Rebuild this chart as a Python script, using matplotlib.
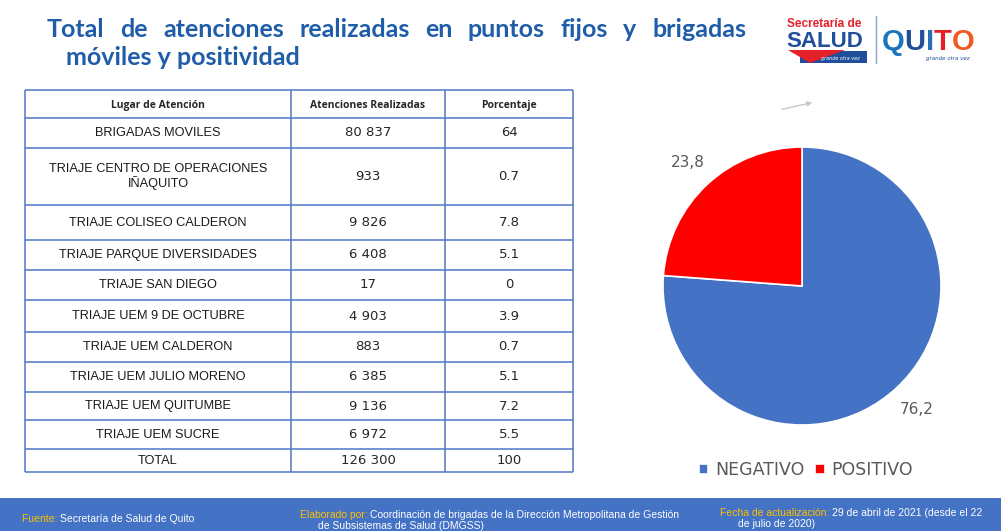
import numpy as np
import matplotlib.pyplot as plt
from matplotlib.patches import Rectangle, Polygon

# datos de la tabla
columnas = ["Lugar de Atención", "Atenciones Realizadas", "Porcentaje"]
lugares = ["BRIGADAS MOVILES", "TRIAJE CENTRO DE OPERACIONES\nIÑAQUITO",
           "TRIAJE COLISEO CALDERON", "TRIAJE PARQUE DIVERSIDADES",
           "TRIAJE SAN DIEGO", "TRIAJE UEM 9 DE OCTUBRE", "TRIAJE UEM CALDERON",
           "TRIAJE UEM JULIO MORENO", "TRIAJE UEM QUITUMBE", "TRIAJE UEM SUCRE"]
atenciones = [80837, 933, 9826, 6408, 17, 4903, 883, 6385, 9136, 6972]
porcentaje = ["64", "0.7", "7.8", "5.1", "0", "3.9", "0.7", "5.1", "7.2", "5.5"]

# datos del pastel
resultado = ["NEGATIVO", "POSITIVO"]
positividad = [76.2, 23.8]
colores = ["#4472C4", "#FF0000"]

W, H = 1001, 531
AZUL_T = "#1F5DA8"
GRIS = "#595959"

fig = plt.figure(figsize=(W / 100, H / 100), dpi=100)
bg = fig.add_axes([0, 0, 1, 1])
bg.set_xlim(0, W)
bg.set_ylim(H, 0)
bg.axis("off")
rend = fig.canvas.get_renderer()


def seq_text(parts, x, y, **kw):
    # pone trozos de texto uno tras otro (colores distintos)
    for s, c in parts:
        t = bg.text(x, y, s, color=c, ha="left", va="baseline", **kw)
        x += t.get_window_extent(rend).width
    return x


def justify(words, x0, x1, y, **kw):
    texts = [bg.text(0, y, w, ha="left", va="baseline", **kw) for w in words]
    widths = [t.get_window_extent(rend).width for t in texts]
    gap = (x1 - x0 - sum(widths)) / (len(words) - 1)
    x = x0
    for t, w in zip(texts, widths):
        t.set_x(x)
        x += w + gap


# titulo
tkw = dict(fontsize=18, fontweight="bold", color=AZUL_T, family=["Lato", "DejaVu Sans"])
justify("Total de atenciones realizadas en puntos fijos y brigadas".split(), 47, 746, 37, **tkw)
bg.text(66, 65, "móviles y positividad", ha="left", va="baseline", **tkw)

# logo (aproximado)
bg.text(787, 27, "Secretaría de", color="#E4202A", fontsize=8.5, fontweight="bold",
        family="Liberation Sans", va="baseline")
bg.text(786, 47, "SALUD", color="#1F4E9B", fontsize=16, fontweight="bold",
        family="Liberation Sans", va="baseline")
bg.add_patch(Rectangle((800, 51), 67, 12, color="#1F4E9B", lw=0))
bg.add_patch(Polygon([(788, 50), (845, 50), (810, 63)], color="#E4202A", lw=0))
bg.text(840, 60, "grande otra vez", color="white", fontsize=3.5, style="italic",
        ha="center", va="baseline")
bg.plot([876, 876], [16, 63], color="#8EA3C8", lw=1)
seq_text([("Q", "#1B75BC"), ("U", "#1F4E9B"), ("I", "#2A6FB8"), ("T", "#E4202A"),
          ("O", "#EE5A24")], 882, 50, fontsize=21, fontweight="bold", family="Liberation Sans")
bg.text(948, 60, "grande otra vez", color="#1F4E9B", fontsize=4, style="italic",
        ha="center", va="baseline")

# tabla
col_x = [25, 291, 445, 573]
row_y = [90, 118, 148, 205, 240, 270, 300, 332, 362, 392, 420, 449, 472]
LINEA = "#4F77C6"
bg.hlines(row_y, col_x[0], col_x[-1], color=LINEA, lw=1.1)
bg.vlines(col_x, row_y[0], row_y[-1], color=LINEA, lw=1.1)
cx = [(col_x[i] + col_x[i + 1]) / 2 for i in range(3)]
cy = [(row_y[i] + row_y[i + 1]) / 2 for i in range(len(row_y) - 1)]

for j, c in enumerate(columnas):
    bg.text(cx[j], cy[0] + 4, c, ha="center", va="baseline", fontsize=7.5, fontweight="bold",
            color="#262626", family=["Open Sans", "DejaVu Sans"])

filas = list(zip(lugares, atenciones, porcentaje))
filas.append(("TOTAL", sum(atenciones), "100"))
for i, (lug, n, p) in enumerate(filas):
    y = cy[i + 1]
    bg.text(cx[0], y, lug, ha="center", va="center", fontsize=9.2, color="#1A1A1A",
            family="Liberation Sans", multialignment="center", linespacing=1.1)
    bg.text(cx[1], y, f"{n:,}".replace(",", " "), ha="center", va="center",
            fontsize=9.5, color="#262626")
    bg.text(cx[2], y, p, ha="center", va="center", fontsize=9.5, color="#262626")

# pastel
cxp, cyp, r = 802, 286, 139
pax = fig.add_axes([(cxp - r) / W, (H - cyp - r) / H, 2 * r / W, 2 * r / H])
wedges, _, autot = pax.pie(positividad, colors=colores, startangle=90, counterclock=False,
                           autopct=lambda p: f"{p:.1f}".replace(".", ","), pctdistance=1.21,
                           wedgeprops=dict(edgecolor="white", linewidth=1.2),
                           textprops=dict(fontsize=11, color=GRIS))
pax.set_xlim(-1, 1)
pax.set_ylim(-1, 1)
pax.set_aspect("equal")

leg = bg.legend(wedges, resultado, loc="center", bbox_to_anchor=(806, 470),
                bbox_transform=bg.transData, ncol=2, frameon=False, fontsize=12.5,
                handlelength=0.55, handleheight=0.55, handletextpad=0.4, columnspacing=0.6)
for t in leg.get_texts():
    t.set_color(GRIS)

bg.annotate("", xy=(815, 102), xytext=(779, 110),
            arrowprops=dict(arrowstyle="-|>", color="#C8C8C8", lw=1, mutation_scale=7))

# pie de pagina
bg.add_patch(Rectangle((0, 498), W, H - 498, color="#4472C4", lw=0))
fkw = dict(fontsize=7.5, family="Liberation Sans")
AMA = "#FFC000"
seq_text([("Fuente: ", AMA), ("Secretaría de Salud de Quito", "white")], 22, 522, **fkw)
seq_text([("Elaborado por: ", AMA),
          ("Coordinación de brigadas de la Dirección Metropolitana de Gestión", "white")],
         300, 518, **fkw)
bg.text(318, 529, "de Subsistemas de Salud (DMGSS)", color="white", va="baseline", **fkw)
seq_text([("Fecha de actualización: ", AMA),
          ("29 de abril de 2021 (desde el 22", "white")], 720, 516, **fkw)
bg.text(738, 527, "de julio de 2020)", color="white", va="baseline", **fkw)

fig.savefig("out.png", dpi=100)
